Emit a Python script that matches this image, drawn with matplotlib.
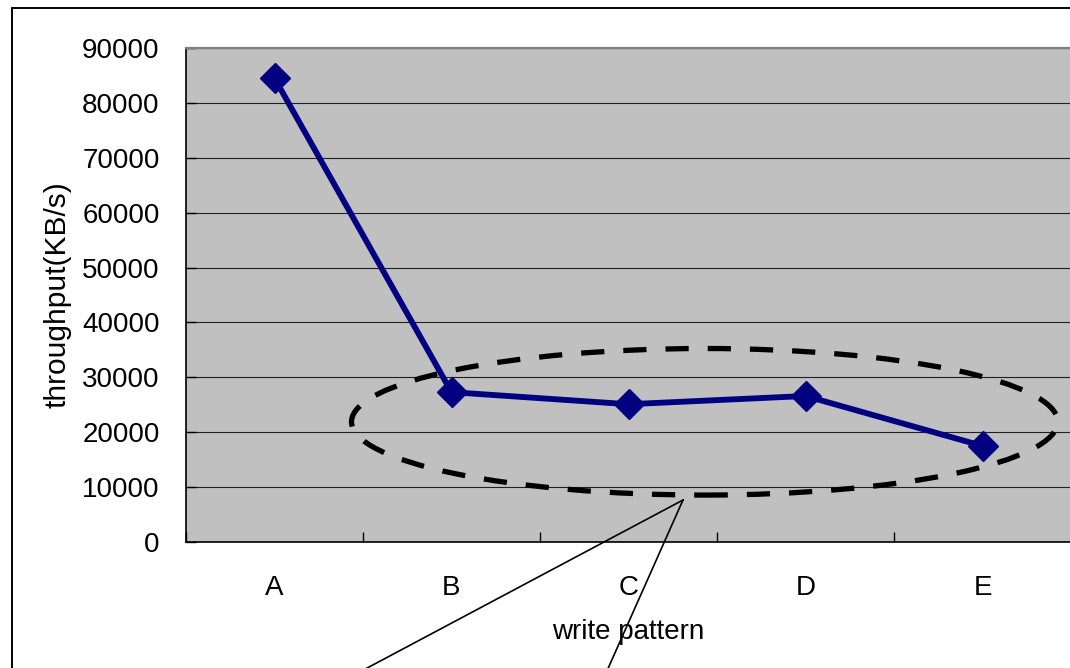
import matplotlib
matplotlib.use("Agg")
import matplotlib.pyplot as plt
from matplotlib.patches import Ellipse, Rectangle
from matplotlib.lines import Line2D

# Throughput per write pattern
patterns = ["A", "B", "C", "D", "E"]
throughput = [84500, 27300, 25100, 26600, 17500]
y_ticks = [0, 10000, 20000, 30000, 40000, 50000, 60000, 70000, 80000, 90000]

plt.rcParams["font.family"] = ["Liberation Sans", "DejaVu Sans"]

W, H = 1070, 668
fig = plt.figure(figsize=(W / 100, H / 100), dpi=100)
fig.patch.set_facecolor("white")

ax = fig.add_axes([186 / W, 1 - 542 / H, (1071 - 186) / W, (542 - 48) / H])
ax.set_facecolor("#C0C0C0")

x = list(range(len(patterns)))
ax.plot(x, throughput, color="#000080", lw=4.2, marker="D", ms=15,
        markerfacecolor="#000080", markeredgecolor="#000080", zorder=4)

ax.set_xlim(-0.5, len(patterns) - 0.5)
ax.set_ylim(0, 90000)

# y axis
ax.set_yticks(y_ticks)
ax.set_yticklabels([str(v) for v in y_ticks])
ax.yaxis.grid(True, color="#202020", lw=0.8)
ax.set_axisbelow(True)
ax.tick_params(axis="y", direction="in", length=7, width=1, pad=19,
               labelsize=20, colors="black")

# x axis: boundary ticks, labels centred on each category
ax.set_xticks([i - 0.5 for i in range(len(patterns) + 1)])
ax.set_xticklabels([""] * (len(patterns) + 1))
ax.set_xticks(x, minor=True)
ax.set_xticklabels(patterns, minor=True)
ax.tick_params(axis="x", which="major", direction="in", length=7, width=1)
ax.tick_params(axis="x", which="minor", length=0, pad=24, labelsize=20)

ax.set_xlabel("write pattern", fontsize=20, labelpad=13)
ax.set_ylabel("throughput(KB/s)", fontsize=21.5, labelpad=8)

for side in ("left", "bottom"):
    ax.spines[side].set_color("black")
    ax.spines[side].set_linewidth(1.2)
ax.spines["top"].set_color("#808080")
ax.spines["top"].set_linewidth(1.6)
ax.spines["right"].set_visible(False)

# dashed ellipse around patterns B-E
ell = Ellipse((2.43, 21900), 3.99, 26700, fill=False, edgecolor="black",
              lw=3.8, linestyle=(0, (4.4, 3.6)), zorder=5)
ax.add_patch(ell)

# callout lines leading away from the ellipse
def fx(px):
    return px / W

def fy(py):
    return 1 - py / H

apex = (683, 500)
for end in [(307, 700), (594, 700)]:
    fig.add_artist(Line2D([fx(apex[0]), fx(end[0])], [fy(apex[1]), fy(end[1])],
                          color="black", lw=1.2, transform=fig.transFigure,
                          zorder=10))

# outer chart frame
fig.add_artist(Rectangle((fx(12), fy(720)), fx(1200), fy(8) - fy(720),
                         fill=False, edgecolor="black", lw=1.4,
                         transform=fig.transFigure))

fig.savefig("out.png", dpi=100)
